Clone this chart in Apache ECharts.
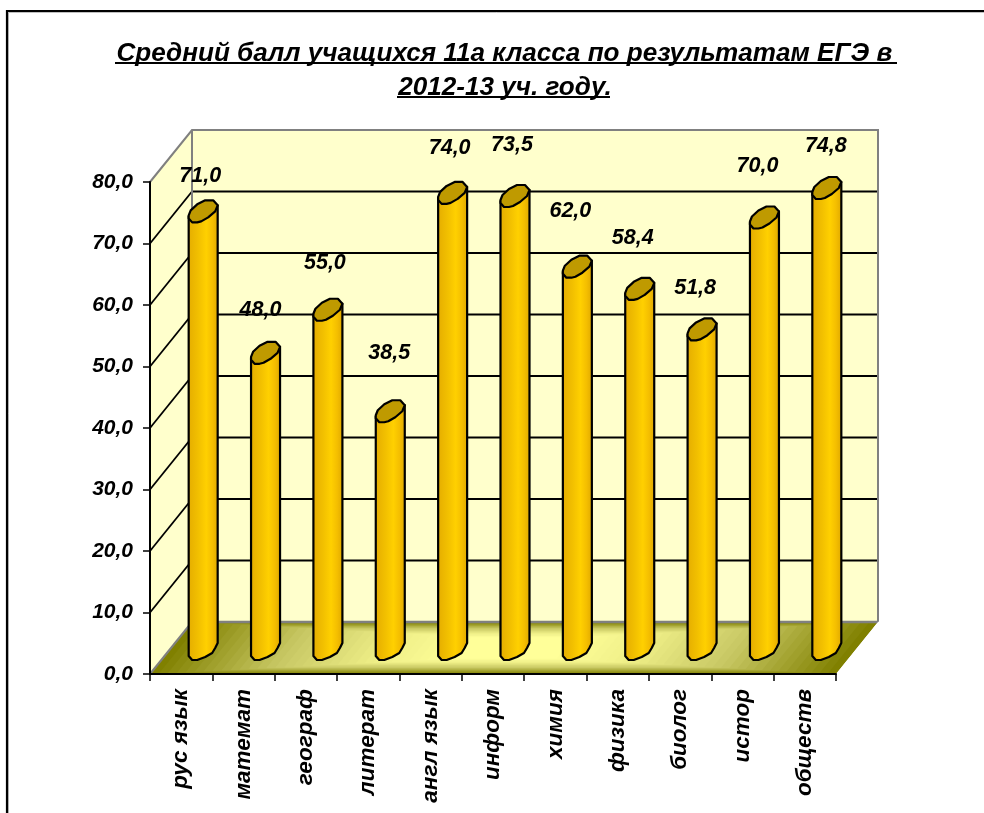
<!DOCTYPE html>
<html><head><meta charset="utf-8">
<script src="https://cdn.jsdelivr.net/npm/echarts@6/dist/echarts.min.js"></script>
<style>html,body{margin:0;padding:0;background:#fff;overflow:hidden}#c{width:984px;height:813px}</style>
</head><body><div id="c"></div>
<script>
const categories = ['рус язык','математ','географ','литерат','англ язык','информ','химия','физика','биолог','истор','обществ'];
const scores = [71.0,48.0,55.0,38.5,74.0,73.5,62.0,58.4,51.8,70.0,74.8];
const yTicks = [0,10,20,30,40,50,60,70,80];
const titleLines = ['Средний балл учащихся 11а класса по результатам ЕГЭ в ','2012-13 уч. году.'];

// layout / style constants (not data)
const DX = 42, DY = 52;
const FONT = '"Liberation Sans", Arial, sans-serif';
const labelNudge = [[-3,-35],[-5,-43],[-3,-47],[-1,-58],[-3,-45],[-3,-51],[-7,-56],[-7,-51],[-7,-41],[-7,-51],[-1,-42]];
const capRel = [[-14.5,4],[-12.5,-1],[-6,-7],[2,-11],[10,-11],[14.5,-6],[12,0],[5,6],[-2,10],[-6,11],[-11,11],[-14.5,7]];
const baseRel = [[14.5,-5],[12,0],[9,5],[2,9],[-6,12],[-11,12],[-14.5,8]];
const g = echarts.graphic;

function mix(a,b,t){return 'rgb('+a.map((v,i)=>Math.round(v+(b[i]-v)*t)).join(',')+')';}
function floorColor(t){
  if(t<0.4) return mix([128,128,0],[200,200,100],t/0.4);
  if(t<0.72) return mix([200,200,100],[238,238,135],(t-0.4)/0.32);
  return mix([238,238,135],[255,255,153],Math.min(1,(t-0.72)/0.28));
}

function renderBackdrop(params, api){
  const cs = params.coordSys;
  const x0 = cs.x, x1 = cs.x + cs.width;
  const y0 = api.coord([0,0])[1];
  const yTop = api.coord([0,yTicks[yTicks.length-1]])[1];
  const kids = [];
  kids.push({type:'polygon',shape:{points:[[x0,y0],[x0,yTop],[x0+DX,yTop-DY],[x0+DX,y0-DY]]},style:{fill:'#FFFFCC'}});
  kids.push({type:'rect',shape:{x:x0+DX,y:yTop-DY,width:cs.width,height:y0-yTop},style:{fill:'#FFFFCC'}});
  yTicks.slice(1,-1).forEach(v=>{
    const y = api.coord([0,v])[1];
    kids.push({type:'line',shape:{x1:x0,y1:y,x2:x0+DX,y2:y-DY},style:{stroke:'#000',lineWidth:1.8}});
    kids.push({type:'line',shape:{x1:x0+DX,y1:y-DY,x2:x1+DX,y2:y-DY},style:{stroke:'#000',lineWidth:1.8}});
  });
  kids.push({type:'polyline',shape:{points:[[x0,yTop],[x0+DX,yTop-DY],[x1+DX,yTop-DY],[x1+DX,y0-DY]]},style:{stroke:'#808080',lineWidth:2,fill:null}});
  kids.push({type:'line',shape:{x1:x0+DX,y1:yTop-DY,x2:x0+DX,y2:y0-DY},style:{stroke:'#808080',lineWidth:2}});
  // floor: nested path gradient with a vertical plateau
  const corners = [[x0,y0],[x1,y0],[x1+DX,y0-DY],[x0+DX,y0-DY]];
  const cx = (x0+x1+DX)/2, cy = y0-DY/2;
  const N = 40;
  for(let i=0;i<N;i++){
    const s = 1-i/N, sy = 0.3+0.7*s;
    kids.push({type:'polygon',shape:{points:corners.map(p=>[cx+(p[0]-cx)*s+(cy-p[1])*DX/DY*(sy-s),cy+(p[1]-cy)*sy])},
      style:{fill:floorColor(i/(N-6))}});
  }
  kids.push({type:'line',shape:{x1:x0,y1:y0,x2:x0+DX,y2:y0-DY},style:{stroke:'#808080',lineWidth:2}});
  kids.push({type:'line',shape:{x1:x0+DX,y1:y0-DY,x2:x1+DX,y2:y0-DY},style:{stroke:'#808080',lineWidth:2.5}});
  kids.push({type:'line',shape:{x1:x1+1,y1:y0,x2:x1+DX+1,y2:y0-DY},style:{stroke:'#ffffff',lineWidth:1.5}});
  return {type:'group',children:kids};
}

function renderCylinder(params, api){
  const i = api.value(0), v = api.value(1);
  const top = api.coord([i,v]), base = api.coord([i,0]);
  const cx = top[0]+DX/2+1, ty = top[1]-DY/2, by = base[1]-DY/2;
  const bodyPts = [[cx-14.5,ty+5],[cx+14.5,ty-6]].concat(baseRel.map(p=>[cx+p[0],by+p[1]]));
  const grad = new g.LinearGradient(0,0,1,0,[
    {offset:0,color:'#E4AC00'},{offset:0.35,color:'#F2C000'},{offset:0.6,color:'#FFD000'},
    {offset:0.8,color:'#F4BE00'},{offset:1,color:'#DCA600'}]);
  const capPts = capRel.map(p=>[cx+p[0],ty+p[1]]);
  const n = labelNudge[params.dataIndex];
  return {type:'group',children:[
    {type:'polygon',shape:{points:bodyPts},style:{fill:grad,stroke:'#000',lineWidth:2.2,lineJoin:'round'}},
    {type:'polygon',shape:{points:capPts},style:{fill:'#BF9A00',stroke:'#000',lineWidth:2.2,lineJoin:'round'}},
    {type:'text',x:cx+n[0],y:ty+n[1],style:{text:v.toFixed(1).replace('.',','),fill:'#000',
      font:'italic bold 21.5px '+FONT,align:'center',verticalAlign:'middle'}}
  ]};
}

const titleStyle = {fontFamily:FONT,fontStyle:'italic',fontWeight:'bold',fontSize:26.1,color:'#000'};
const chart = echarts.init(document.getElementById('c'));
chart.setOption({
  animation:false,
  backgroundColor:'#fff',
  title:[
    {text:titleLines[0],left:503,top:36,textAlign:'center',textStyle:titleStyle},
    {text:titleLines[1],left:500,top:70,textAlign:'center',textStyle:titleStyle}
  ],
  grid:{left:150,top:182,width:686,height:492},
  xAxis:{type:'category',data:categories,z:5,
    axisLine:{lineStyle:{color:'#000',width:2}},
    axisTick:{show:true,length:7,lineStyle:{color:'#000',width:1.5}},
    axisLabel:{rotate:90,margin:15,interval:0,color:'#000',fontFamily:FONT,fontStyle:'italic',fontWeight:'bold',fontSize:22.5}},
  yAxis:{type:'value',min:0,max:80,interval:10,z:5,
    splitLine:{show:false},
    axisLine:{show:true,lineStyle:{color:'#000',width:2}},
    axisTick:{show:true,length:7,lineStyle:{color:'#000',width:1.5}},
    axisLabel:{margin:17,color:'#000',fontFamily:FONT,fontStyle:'italic',fontWeight:'bold',fontSize:21,
      formatter:v=>v.toFixed(1).replace('.',',')}},
  series:[
    {type:'custom',name:'backdrop',coordinateSystem:'cartesian2d',z:1,silent:true,clip:false,
     data:[[0,0]],renderItem:renderBackdrop},
    {type:'custom',name:'Средний балл',coordinateSystem:'cartesian2d',z:3,clip:false,
     data:scores.map((s,i)=>[i,s]),encode:{x:0,y:1},renderItem:renderCylinder}
  ],
  graphic:[
    {type:'rect',z:20,shape:{x:8.5,y:12.5,width:1000,height:900},style:{fill:null,stroke:'#c0c0c0',lineWidth:1}},
    {type:'rect',z:20,shape:{x:7,y:11,width:1000,height:900},style:{fill:null,stroke:'#000',lineWidth:2.2}},
    {type:'line',z:20,shape:{x1:115,y1:63,x2:897,y2:63},style:{stroke:'#000',lineWidth:2}},
    {type:'line',z:20,shape:{x1:397,y1:97,x2:610,y2:97},style:{stroke:'#000',lineWidth:2}}
  ]
});
</script></body></html>
